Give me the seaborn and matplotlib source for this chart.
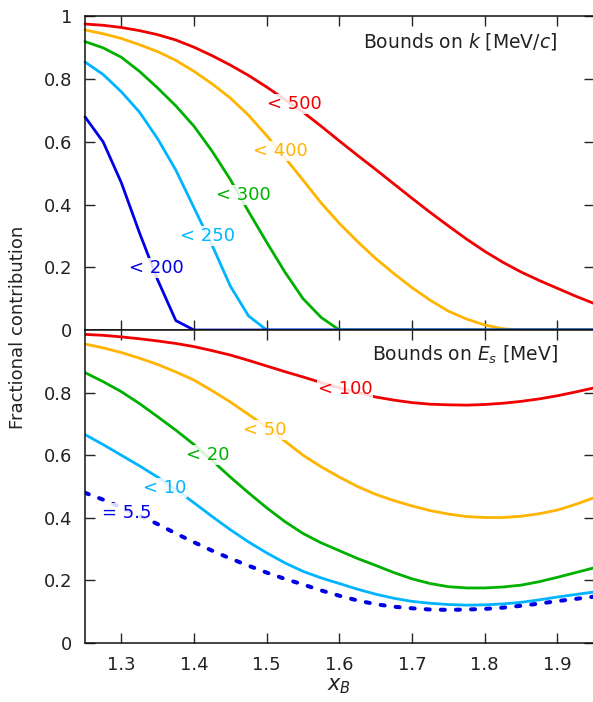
import matplotlib
matplotlib.use("Agg")
import matplotlib.pyplot as plt
import seaborn as sns
import pandas as pd

# ---------------- data ----------------
x_B = [1.25, 1.275, 1.3, 1.325, 1.35, 1.375, 1.4, 1.425, 1.45, 1.475,
       1.5, 1.525, 1.55, 1.575, 1.6, 1.625, 1.65, 1.675, 1.7, 1.725,
       1.75, 1.775, 1.8, 1.825, 1.85, 1.875, 1.9, 1.925, 1.95]

# Top panel: bounds on k [MeV/c]
k_500 = [0.976, 0.972, 0.965, 0.955, 0.942, 0.925, 0.902, 0.875, 0.845, 0.812,
         0.775, 0.735, 0.695, 0.650, 0.603, 0.557, 0.512, 0.466, 0.420, 0.375,
         0.332, 0.290, 0.251, 0.216, 0.185, 0.158, 0.133, 0.108, 0.085]
k_400 = [0.957, 0.945, 0.930, 0.910, 0.888, 0.860, 0.825, 0.785, 0.740, 0.685,
         0.620, 0.550, 0.478, 0.405, 0.340, 0.282, 0.228, 0.180, 0.135, 0.095,
         0.060, 0.035, 0.016, 0.004, 0.0, 0.0, 0.0, 0.0, 0.0]
k_300 = [0.920, 0.900, 0.870, 0.825, 0.772, 0.715, 0.650, 0.570, 0.480, 0.378,
         0.280, 0.185, 0.100, 0.040, 0.0, 0.0, 0.0, 0.0, 0.0, 0.0,
         0.0, 0.0, 0.0, 0.0, 0.0, 0.0, 0.0, 0.0, 0.0]
k_250 = [0.855, 0.815, 0.760, 0.695, 0.610, 0.510, 0.390, 0.270, 0.140, 0.045,
         0.0, 0.0, 0.0, 0.0, 0.0, 0.0, 0.0, 0.0, 0.0, 0.0,
         0.0, 0.0, 0.0, 0.0, 0.0, 0.0, 0.0, 0.0, 0.0]
k_200 = [0.680, 0.600, 0.470, 0.310, 0.160, 0.030, 0.0, 0.0, 0.0, 0.0,
         0.0, 0.0, 0.0, 0.0, 0.0, 0.0, 0.0, 0.0, 0.0, 0.0,
         0.0, 0.0, 0.0, 0.0, 0.0, 0.0, 0.0, 0.0, 0.0]

# Bottom panel: bounds on E_s [MeV]
e_100 = [0.986, 0.983, 0.978, 0.972, 0.965, 0.957, 0.947, 0.934, 0.920, 0.903,
         0.885, 0.867, 0.850, 0.832, 0.815, 0.800, 0.786, 0.776, 0.768, 0.763,
         0.761, 0.760, 0.762, 0.766, 0.772, 0.780, 0.790, 0.802, 0.815]
e_50 = [0.955, 0.943, 0.928, 0.910, 0.890, 0.866, 0.840, 0.806, 0.770, 0.730,
        0.690, 0.645, 0.600, 0.563, 0.530, 0.500, 0.475, 0.455, 0.438, 0.423,
        0.412, 0.404, 0.401, 0.401, 0.405, 0.413, 0.425, 0.443, 0.464]
e_20 = [0.864, 0.835, 0.803, 0.765, 0.723, 0.680, 0.634, 0.583, 0.530, 0.480,
        0.432, 0.388, 0.350, 0.320, 0.295, 0.270, 0.248, 0.225, 0.205, 0.190,
        0.180, 0.176, 0.176, 0.179, 0.185, 0.196, 0.210, 0.225, 0.240]
e_10 = [0.666, 0.634, 0.600, 0.566, 0.530, 0.490, 0.448, 0.404, 0.362, 0.323,
        0.288, 0.256, 0.229, 0.208, 0.190, 0.172, 0.156, 0.143, 0.133, 0.127,
        0.123, 0.121, 0.122, 0.125, 0.130, 0.138, 0.147, 0.155, 0.163]
e_55 = [0.480, 0.458, 0.433, 0.407, 0.380, 0.350, 0.322, 0.295, 0.270, 0.247,
        0.225, 0.205, 0.187, 0.168, 0.151, 0.136, 0.124, 0.116, 0.111, 0.107,
        0.106, 0.107, 0.109, 0.113, 0.119, 0.126, 0.134, 0.141, 0.148]

top_labels = ["< 500", "< 400", "< 300", "< 250", "< 200"]
bot_labels = ["< 100", "< 50", "< 20", "< 10", "= 5.5"]
x_ticks = [1.3, 1.4, 1.5, 1.6, 1.7, 1.8, 1.9]
y_ticks_top = [0, 0.2, 0.4, 0.6, 0.8, 1.0]
y_ticklabels_top = ["0", "0.2", "0.4", "0.6", "0.8", "1"]
y_ticks_bot = [0, 0.2, 0.4, 0.6, 0.8]
y_ticklabels_bot = ["0", "0.2", "0.4", "0.6", "0.8"]

# ---------------- style ----------------
sns.set_style("ticks")
plt.rcParams["font.family"] = ["DejaVu Sans"]
plt.rcParams["mathtext.fontset"] = "dejavusans"
plt.rcParams["axes.linewidth"] = 1.1
plt.rcParams["axes.edgecolor"] = "#111111"

RED = "#f00000"
ORANGE = "#ffb400"
GREEN = "#00b000"
CYAN = "#00b4ff"
BLUE = "#0000e6"
TXT = "#222222"

fig = plt.figure(figsize=(5.93, 7.02), dpi=100)
ax1 = fig.add_axes([0.1433, 0.5299, 0.8580, 0.4466])
ax2 = fig.add_axes([0.1433, 0.0840, 0.8580, 0.4459])

top_series = [k_500, k_400, k_300, k_250, k_200]
bot_series = [e_100, e_50, e_20, e_10, e_55]
colors = [RED, ORANGE, GREEN, CYAN, BLUE]

for ys, c in zip(top_series, colors):
    sns.lineplot(x=x_B, y=ys, ax=ax1, color=c, linewidth=2.0, clip_on=False)

for i, (ys, c) in enumerate(zip(bot_series, colors)):
    if i == 4:
        sns.lineplot(x=x_B, y=ys, ax=ax2, color=c, linewidth=2.9,
                     linestyle=(0, (1.0, 2.75)), dash_capstyle="round")
    else:
        sns.lineplot(x=x_B, y=ys, ax=ax2, color=c, linewidth=2.0)

# curve labels
bbox = dict(boxstyle="square,pad=0.05", facecolor="white", edgecolor="none", alpha=0.85)
top_pos = [(1.501, 0.72), (1.481, 0.571), (1.430, 0.431), (1.381, 0.300), (1.310, 0.198)]
bot_pos = [(1.570, 0.813), (1.468, 0.680), (1.389, 0.600), (1.330, 0.496), (1.273, 0.416)]
for (px, py), lab, c in zip(top_pos, top_labels, colors):
    ax1.text(px, py, lab, color=c, fontsize=13, ha="left", va="center", bbox=bbox, zorder=5)
for (px, py), lab, c in zip(bot_pos, bot_labels, colors):
    ax2.text(px, py, lab, color=c, fontsize=13, ha="left", va="center", bbox=bbox, zorder=5)

ax1.text(1.899, 0.92, "Bounds on $k$ [MeV/$c$]", ha="right", va="center", fontsize=13.5, color=TXT)
ax2.text(1.901, 0.92, "Bounds on $E_s$ [MeV]", ha="right", va="center", fontsize=13.5, color=TXT)

for ax in (ax1, ax2):
    ax.set_xlim(1.25, 1.95)
    ax.set_ylim(0, 1)
    ax.set_xticks(x_ticks)
    ax.tick_params(direction="in", length=7, width=1.0, top=True, right=True,
                   labelsize=13, labelcolor=TXT, pad=9)
    ax.set_xlabel("")
    ax.set_ylabel("")

ax1.set_yticks(y_ticks_top)
ax1.set_yticklabels(y_ticklabels_top)
ax1.tick_params(labelbottom=False)
ax2.set_yticks(y_ticks_bot)
ax2.set_yticklabels(y_ticklabels_bot)
ax2.set_xticklabels([f"{v:.1f}" for v in x_ticks])
ax2.set_xlabel("$x_B$", fontsize=15, color=TXT, labelpad=2)

fig.text(0.030, 0.534, "Fractional contribution", rotation=90, ha="center", va="center",
         fontsize=13, color=TXT)

fig.savefig("out.png", dpi=100)
